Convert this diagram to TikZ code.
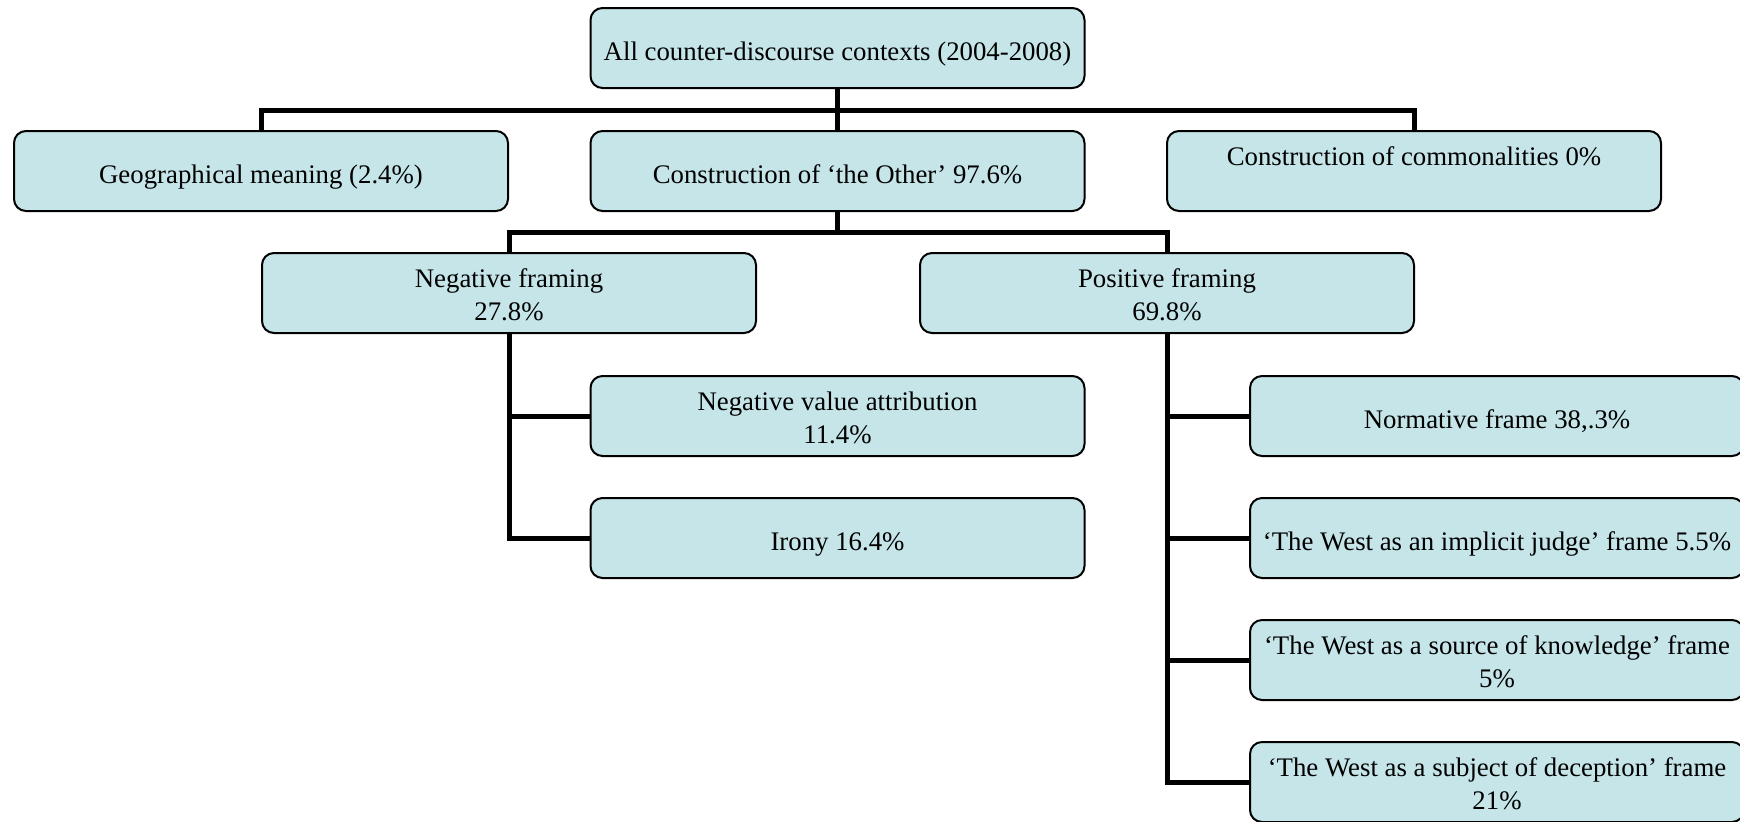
\documentclass[tikz,border=0pt]{standalone}
\usepackage{fontspec}
\setmainfont{Liberation Serif}
\usepackage{tikz}

\definecolor{boxfill}{RGB}{197,229,232}

\tikzset{
  catbox/.style={draw, line width=1pt, rounded corners=6pt, fill=boxfill,
    minimum width=247pt, minimum height=40pt, inner sep=0pt, align=center,
    font=\fontsize{13.4}{16.5}\selectfont, text height=13.5pt, text depth=1.5pt},
  twoline/.style={text height=28.5pt},
  link/.style={line width=2.5pt}
}

\begin{document}
\begin{tikzpicture}[x=0.5pt, y=-0.5pt]
\useasboundingbox (0,0) rectangle (1740,821);
\clip (0,0) rectangle (1740,821);

% top
\node[catbox] (root) at (837.5,48) {All counter-discourse contexts (2004-2008)};

% first level
\node[catbox] (geo) at (261,171) {Geographical meaning (2.4\%)};
\node[catbox] (other) at (837.5,171) {Construction of `the Other' 97.6\%};
\node[catbox, twoline] (common) at (1414,171) {Construction of commonalities 0\%\\ \strut};

% framing
\node[catbox, twoline] (neg) at (509,293) {Negative framing\\27.8\%};
\node[catbox, twoline] (pos) at (1167,293) {Positive framing\\69.8\%};

% negative side
\node[catbox, twoline] (nva) at (837.5,416) {Negative value attribution\\11.4\%};
\node[catbox] (irony) at (837.5,538) {Irony 16.4\%};

% positive side
\node[catbox] (norm) at (1497,416) {Normative frame 38,.3\%};
\node[catbox] (judge) at (1497,538) {`The West as an implicit judge' frame 5.5\%};
\node[catbox, twoline] (know) at (1497,660) {`The West as a source of knowledge' frame\\5\%};
\node[catbox, twoline] (decep) at (1497,782) {`The West as a subject of deception' frame\\21\%};

% connectors
\coordinate (bar1) at (837.5,110);
\coordinate (bar2) at (837.5,232);
\draw[link] (root.south) -- (other.north);
\draw[link] (geo.north) |- (bar1) -| (common.north);
\draw[link] (other.south) -- (bar2);
\draw[link] (neg.north) |- (bar2) -| (pos.north);

\draw[link] (neg.south) |- (irony.west);
\draw[link] (neg.south |- nva.west) -- (nva.west);

\draw[link] (pos.south) |- (decep.west);
\foreach \n in {norm,judge,know}
  \draw[link] (pos.south |- \n.west) -- (\n.west);
\end{tikzpicture}
\end{document}
